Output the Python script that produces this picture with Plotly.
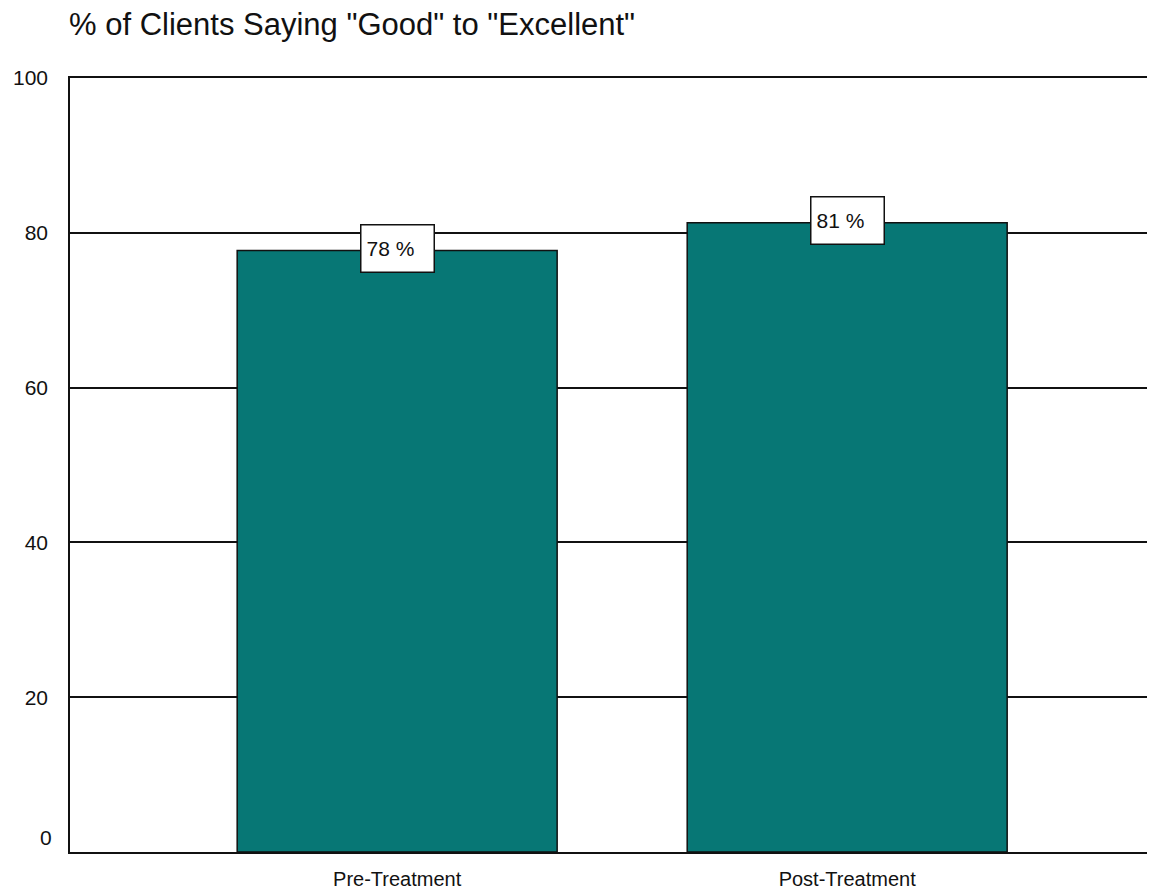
import plotly.graph_objects as go

categories = ["Pre-Treatment", "Post-Treatment"]
values = [77.7, 81.3]
labels = ["78 %", "81 %"]
y_ticks = [0, 20, 40, 60, 80, 100]

bar_color = "#077775"
font_family = "Liberation Sans, Arial, sans-serif"

fig = go.Figure()
fig.add_trace(go.Bar(
    x=[0, 1], y=values, width=0.711,
    marker=dict(color=bar_color, line=dict(color="#111111", width=1.5)),
    hoverinfo="skip",
))

for i, (v, t) in enumerate(zip(values, labels)):
    fig.add_annotation(
        x=i, y=v, xref="x", yref="y", text=t, showarrow=False,
        xanchor="center", yanchor="middle", yshift=2,
        font=dict(family=font_family, size=21, color="#111111"),
        bgcolor="white", bordercolor="#111111", borderwidth=1.5, borderpad=5,
        width=62, height=36, align="left",
    )

# the "0" label sits a little above the baseline in the reference
fig.add_annotation(
    x=0, y=y_ticks[0], xref="paper", yref="y", text=str(y_ticks[0]), showarrow=False,
    xanchor="right", yanchor="middle", xshift=-16, yshift=15,
    font=dict(family=font_family, size=21, color="#111111"),
)

W, H = 1147, 882
fig.update_layout(
    width=W, height=H,
    margin=dict(l=62, r=0, t=70, b=H - 844),
    paper_bgcolor="white", plot_bgcolor="white",
    showlegend=False,
    title=dict(text='% of Clients Saying "Good" to "Excellent"',
               x=61 / W, xanchor="left", y=1 - 16 / H, yanchor="middle",
               font=dict(family=font_family, size=31, color="#111111")),
    font=dict(family=font_family, color="#111111"),
    xaxis=dict(
        range=[-0.727, 1.684], tickmode="array", tickvals=[0, 1], ticktext=categories,
        showgrid=False, zeroline=False, showline=True, mirror=True,
        linecolor="#111111", linewidth=1.5, automargin=False,
        ticks="", ticklabelstandoff=8, tickfont=dict(size=20, family=font_family, color="#111111"),
    ),
    yaxis=dict(
        range=[0, 100], tickmode="array", tickvals=y_ticks,
        ticktext=["" if t == y_ticks[0] else str(t) for t in y_ticks],
        showgrid=True, gridcolor="#111111", gridwidth=1.5,
        zeroline=False, showline=True, linecolor="#111111", linewidth=1.5,
        automargin=False,
        ticks="", ticklabelstandoff=16, tickfont=dict(size=21, family=font_family, color="#111111"),
    ),
)

fig.write_html("out.html")
